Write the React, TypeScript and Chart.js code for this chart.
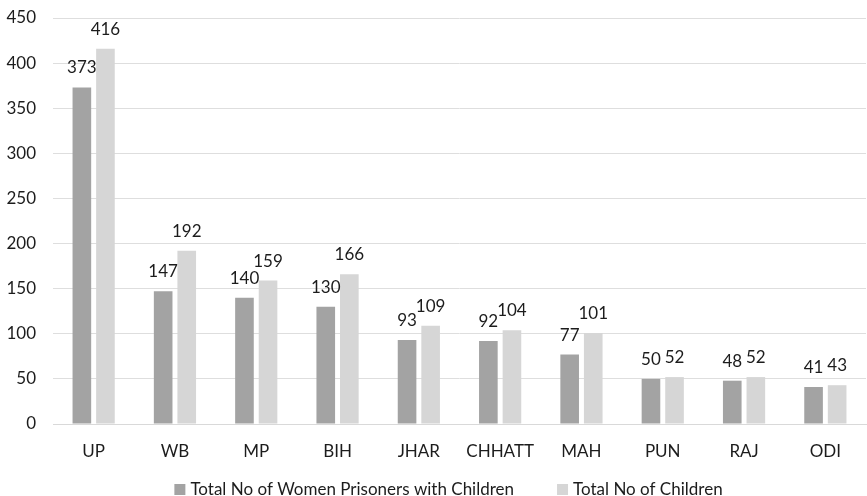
import React, { useEffect, useRef } from "react";
import { Chart, registerables } from "chart.js";

Chart.register(...registerables);

const states = ["UP", "WB", "MP", "BIH", "JHAR", "CHHATT", "MAH", "PUN", "RAJ", "ODI"];
const womenWithChildren = [373, 147, 140, 130, 93, 92, 77, 50, 48, 41];
const totalChildren = [416, 192, 159, 166, 109, 104, 101, 52, 52, 43];
const seriesNames = ["Total No of Women Prisoners with Children", "Total No of Children"];
const seriesColors = ["#a3a3a3", "#d6d6d6"];

const FONT = "Lato, 'Noto Sans', sans-serif";
const SIZE = 17;
const TEXT = "#1c1c1c";

// Value labels above each bar
const valueLabels = {
  id: "valueLabels",
  afterDatasetsDraw(chart: any) {
    const ctx = chart.ctx;
    ctx.save();
    ctx.font = `${SIZE}px ${FONT}`;
    ctx.fillStyle = TEXT;
    ctx.textAlign = "center";
    ctx.textBaseline = "alphabetic";
    chart.data.datasets.forEach((ds: any, i: number) => {
      const meta = chart.getDatasetMeta(i);
      meta.data.forEach((bar: any, j: number) => {
        ctx.fillText(String(ds.data[j]), bar.x, bar.y - 14);
      });
    });
    ctx.restore();
  },
};

// Legend row at the foot of the canvas, slightly right of centre
const bottomLegend = {
  id: "bottomLegend",
  afterDraw(chart: any) {
    const ctx = chart.ctx;
    const box = 11;
    const textGap = 5;
    const itemGap = 43;
    ctx.save();
    ctx.font = `${SIZE}px ${FONT}`;
    const items = chart.data.datasets.map((ds: any) => ({
      label: ds.label,
      color: ds.backgroundColor,
      w: box + textGap + ctx.measureText(ds.label).width,
    }));
    const total = items.reduce((s: number, it: any) => s + it.w, 0) + itemGap * (items.length - 1);
    let x = (chart.width - total) / 2 + 15;
    const baseline = 495;
    ctx.textBaseline = "alphabetic";
    ctx.textAlign = "left";
    items.forEach((it: any) => {
      ctx.fillStyle = it.color;
      ctx.fillRect(x, baseline - box, box, box);
      ctx.fillStyle = TEXT;
      ctx.fillText(it.label, x + box + textGap, baseline);
      x += it.w + itemGap;
    });
    ctx.restore();
  },
};

export default function App() {
  const ref = useRef<HTMLCanvasElement>(null);

  useEffect(() => {
    if (!ref.current) return;
    const chart = new Chart(ref.current, {
      type: "bar",
      data: {
        labels: states,
        datasets: [
          {
            label: seriesNames[0],
            data: womenWithChildren,
            backgroundColor: seriesColors[0],
            categoryPercentage: 0.58,
            barPercentage: 0.79,
          },
          {
            label: seriesNames[1],
            data: totalChildren,
            backgroundColor: seriesColors[1],
            categoryPercentage: 0.58,
            barPercentage: 0.79,
          },
        ],
      },
      options: {
        responsive: false,
        animation: false,
        layout: { padding: { left: 0, right: 1, top: 18, bottom: 24 } },
        plugins: {
          legend: { display: false },
          tooltip: { enabled: false },
        },
        scales: {
          x: {
            grid: { display: false, drawTicks: false },
            border: { display: true, color: "#d9d9d9" },
            ticks: { color: TEXT, font: { family: FONT, size: SIZE }, padding: 17 },
            afterFit: (scale: any) => {
              scale.height = 48;
            },
          },
          y: {
            min: 0,
            max: 450,
            grid: { color: "#dedede", drawTicks: false },
            border: { display: false },
            ticks: { stepSize: 50, color: TEXT, font: { family: FONT, size: SIZE }, padding: 17 },
            afterFit: (scale: any) => {
              scale.width = 53;
              scale.paddingTop = 0;
              scale.paddingBottom = 0;
            },
          },
        },
      },
      plugins: [valueLabels, bottomLegend],
    });
    return () => chart.destroy();
  }, []);

  return (
    <div style={{ position: "fixed", left: 0, top: 0, width: 867, height: 496, background: "#fff" }}>
      <canvas ref={ref} width={867} height={496} style={{ display: "block" }} />
    </div>
  );
}
